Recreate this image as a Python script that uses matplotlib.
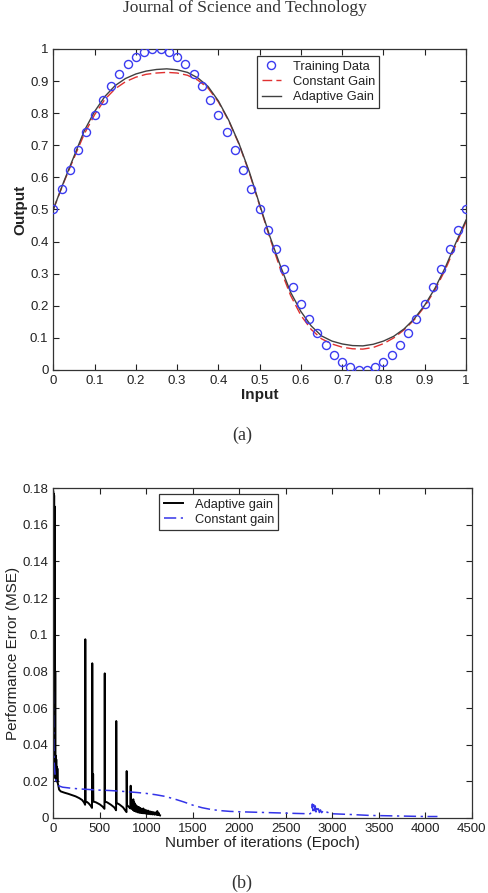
import matplotlib
matplotlib.use("Agg")
import matplotlib.pyplot as plt

plt.rcParams["font.family"] = ["Liberation Sans", "DejaVu Sans"]

# Panel (a): training data and network outputs
train_x = [0.00, 0.02, 0.04, 0.06, 0.08, 0.10, 0.12, 0.14, 0.16, 0.18,
           0.20, 0.22, 0.24, 0.26, 0.28, 0.30, 0.32, 0.34, 0.36, 0.38,
           0.40, 0.42, 0.44, 0.46, 0.48, 0.50, 0.52, 0.54, 0.56, 0.58,
           0.60, 0.62, 0.64, 0.66, 0.68, 0.70, 0.72, 0.74, 0.76, 0.78,
           0.80, 0.82, 0.84, 0.86, 0.88, 0.90, 0.92, 0.94, 0.96, 0.98, 1.00]
train_y = [0.500, 0.563, 0.624, 0.684, 0.741, 0.794, 0.842, 0.885, 0.922, 0.952,
           0.976, 0.991, 0.999, 0.999, 0.991, 0.976, 0.952, 0.922, 0.885, 0.842,
           0.794, 0.741, 0.684, 0.624, 0.563, 0.500, 0.437, 0.376, 0.316, 0.259,
           0.206, 0.158, 0.115, 0.078, 0.048, 0.024, 0.009, 0.001, 0.001, 0.009,
           0.024, 0.048, 0.078, 0.115, 0.158, 0.206, 0.259, 0.316, 0.376, 0.437, 0.500]

curve_x = [0.000, 0.025, 0.050, 0.075, 0.100, 0.125, 0.150, 0.175, 0.200, 0.225,
           0.250, 0.275, 0.300, 0.325, 0.350, 0.375, 0.400, 0.425, 0.450, 0.475,
           0.500, 0.525, 0.550, 0.575, 0.600, 0.625, 0.650, 0.675, 0.700, 0.725,
           0.750, 0.775, 0.800, 0.825, 0.850, 0.875, 0.900, 0.925, 0.950, 0.975, 1.000]
adaptive_y = [0.500, 0.585, 0.665, 0.745, 0.805, 0.852, 0.886, 0.908, 0.922, 0.931,
              0.936, 0.938, 0.935, 0.927, 0.910, 0.883, 0.838, 0.778, 0.705, 0.617,
              0.515, 0.415, 0.325, 0.242, 0.182, 0.137, 0.106, 0.090, 0.081, 0.076,
              0.075, 0.080, 0.090, 0.105, 0.128, 0.160, 0.202, 0.255, 0.320, 0.395, 0.467]
constant_y = [0.500, 0.583, 0.660, 0.735, 0.795, 0.843, 0.876, 0.898, 0.912, 0.921,
              0.925, 0.927, 0.925, 0.918, 0.903, 0.878, 0.835, 0.776, 0.703, 0.614,
              0.512, 0.410, 0.315, 0.232, 0.170, 0.126, 0.097, 0.081, 0.071, 0.066,
              0.065, 0.070, 0.082, 0.100, 0.125, 0.157, 0.198, 0.250, 0.313, 0.388, 0.462]

# Panel (b): training error per epoch
adapt_epoch = [0, 3, 5, 7, 9, 11, 13, 15, 17, 19, 21, 23, 26, 29, 32, 35, 38, 41, 44, 48,
               55, 62, 80, 120, 160, 200, 240, 280, 310, 330, 342, 344, 347, 360, 380,
               400, 416, 419, 422, 426, 428, 431, 460, 500, 530, 550, 553, 556, 580,
               620, 655, 675, 677, 680, 710, 750, 775, 787, 789, 792, 810, 828, 832,
               835, 845, 850, 855, 860, 865, 870, 875, 880, 886, 892, 898, 905, 912,
               920, 928, 936, 944, 952, 960, 968, 976, 985, 994, 1003, 1012, 1021,
               1030, 1040, 1050, 1060, 1070, 1080, 1090, 1100, 1110, 1118, 1125,
               1132, 1140, 1148]
adapt_mse = [0.178, 0.030, 0.177, 0.025, 0.176, 0.035, 0.170, 0.022, 0.150, 0.034,
             0.080, 0.022, 0.034, 0.021, 0.032, 0.020, 0.028, 0.020, 0.027, 0.019,
             0.0175, 0.0155, 0.0145, 0.0138, 0.0132, 0.0125, 0.0118, 0.0108, 0.0098,
             0.0085, 0.0072, 0.0975, 0.0085, 0.0088, 0.0080, 0.0068, 0.0055, 0.0844,
             0.0092, 0.0090, 0.0240, 0.0090, 0.0085, 0.0074, 0.0062, 0.0050, 0.0789,
             0.0090, 0.0085, 0.0072, 0.0058, 0.0042, 0.0529, 0.0082, 0.0074, 0.0058,
             0.0040, 0.0032, 0.0256, 0.0070, 0.0062, 0.0052, 0.0176, 0.0060, 0.0050,
             0.0090, 0.0045, 0.0102, 0.0040, 0.0085, 0.0038, 0.0075, 0.0035, 0.0068,
             0.0034, 0.0062, 0.0030, 0.0060, 0.0028, 0.0055, 0.0027, 0.0050, 0.0026,
             0.0052, 0.0025, 0.0045, 0.0024, 0.0042, 0.0022, 0.0040, 0.0021, 0.0036,
             0.0020, 0.0034, 0.0019, 0.0032, 0.0018, 0.0030, 0.0017, 0.0038, 0.0016,
             0.0028, 0.0015, 0.0014]

const_epoch = [0, 3, 6, 10, 15, 20, 30, 45, 60, 100, 200, 300, 400, 500, 600, 700,
               800, 900, 1000, 1100, 1200, 1300, 1400, 1500, 1600, 1700, 1800, 1900,
               2000, 2200, 2400, 2600, 2760, 2775, 2785, 2792, 2800, 2808, 2816, 2824,
               2832, 2840, 2850, 2860, 2872, 2885, 2900, 2920, 2945, 2970, 3000, 3200,
               3400, 3600, 3800, 4000, 4130]
const_mse = [0.069, 0.050, 0.038, 0.030, 0.026, 0.023, 0.020, 0.0185, 0.0175, 0.0168,
             0.0162, 0.0158, 0.0155, 0.0152, 0.0150, 0.0147, 0.0143, 0.0139, 0.0134,
             0.0127, 0.0118, 0.0104, 0.0088, 0.0070, 0.0056, 0.0046, 0.0040, 0.0036,
             0.0034, 0.0031, 0.0028, 0.0025, 0.0023, 0.0030, 0.0076, 0.0040, 0.0072,
             0.0036, 0.0066, 0.0033, 0.0058, 0.0032, 0.0050, 0.0030, 0.0044, 0.0029,
             0.0038, 0.0027, 0.0032, 0.0025, 0.0023, 0.0019, 0.0014, 0.0012, 0.0010,
             0.0008, 0.0008]

TEXT = "#222222"


def matlab_axes(ax):
    """Inward ticks on all four sides, like the old MATLAB plots."""
    ax.tick_params(direction="in", top=True, right=True, length=4, width=0.8,
                   labelsize=9.5, colors=TEXT, pad=3.5)
    for sp in ax.spines.values():
        sp.set_color("#333333")
        sp.set_linewidth(0.9)


def matlab_legend(ax, anchor):
    leg = ax.legend(loc="upper left", bbox_to_anchor=anchor, fontsize=9.3,
                    fancybox=False, edgecolor="#333333", framealpha=1,
                    handlelength=1.5, labelspacing=0.25, borderpad=0.35,
                    handletextpad=0.9, borderaxespad=0)
    leg.get_frame().set_linewidth(0.9)
    for t in leg.get_texts():
        t.set_color(TEXT)
    return leg


fig = plt.figure(figsize=(4.89, 8.93), dpi=100)

# running header of the page, cut at the top edge in the scan
fig.text(0.5, 1 - 12 / 893, "Journal of Science and Technology", ha="center",
         va="baseline", fontsize=12.5, color="#333333", family="Liberation Serif")

# (a)
ax1 = fig.add_axes([0.109, 0.5857, 0.844, 0.3595])
ax1.plot(train_x, train_y, "o", ms=5.8, mfc="none", mec="#3b3bf0", mew=1.0,
         label="Training Data", zorder=3)
ax1.plot(curve_x, constant_y, color="#e03030", lw=1.0, dashes=(7, 3),
         label="Constant Gain")
ax1.plot(curve_x, adaptive_y, color="#404040", lw=1.0, label="Adaptive Gain")
ax1.set_xlim(0, 1)
ax1.set_ylim(0, 1)
ax1.set_xticks([0, 0.1, 0.2, 0.3, 0.4, 0.5, 0.6, 0.7, 0.8, 0.9, 1])
ax1.set_xticklabels(["0", "0.1", "0.2", "0.3", "0.4", "0.5", "0.6", "0.7", "0.8", "0.9", "1"])
ax1.set_yticks([0, 0.1, 0.2, 0.3, 0.4, 0.5, 0.6, 0.7, 0.8, 0.9, 1])
ax1.set_yticklabels(["0", "0.1", "0.2", "0.3", "0.4", "0.5", "0.6", "0.7", "0.8", "0.9", "1"])
matlab_axes(ax1)
ax1.set_xlabel("Input", fontsize=11, fontweight="bold", color=TEXT, labelpad=1)
ax1.set_ylabel("Output", fontsize=11, fontweight="bold", color=TEXT, labelpad=2)
matlab_legend(ax1, (0.4936, 0.978))

fig.text(242 / 489, 1 - 435 / 893, "(a)", ha="center", va="center", fontsize=13,
         color="#333333", family="Liberation Serif")

# (b)
ax2 = fig.add_axes([0.109, 0.084, 0.856, 0.3695])
ax2.plot(adapt_epoch, adapt_mse, color="black", lw=1.4, label="Adaptive gain")
ax2.plot(const_epoch, const_mse, color="#3434e8", lw=1.1,
         dashes=(8, 3, 1.5, 3), label="Constant gain")
ax2.set_xlim(0, 4500)
ax2.set_ylim(0, 0.18)
ax2.set_xticks(range(0, 4501, 500))
ax2.set_yticks([0, 0.02, 0.04, 0.06, 0.08, 0.1, 0.12, 0.14, 0.16, 0.18])
ax2.set_yticklabels(["0", "0.02", "0.04", "0.06", "0.08", "0.1", "0.12", "0.14", "0.16", "0.18"])
matlab_axes(ax2)
ax2.set_xlabel("Number of iterations (Epoch)", fontsize=11, color=TEXT, labelpad=1)
ax2.set_ylabel("Performance Error (MSE)", fontsize=11, color=TEXT, labelpad=2)
matlab_legend(ax2, (0.2525, 0.982))

fig.text(242 / 489, 1 - 883 / 893, "(b)", ha="center", va="center", fontsize=13,
         color="#333333", family="Liberation Serif")

fig.savefig("out.png", dpi=100)
